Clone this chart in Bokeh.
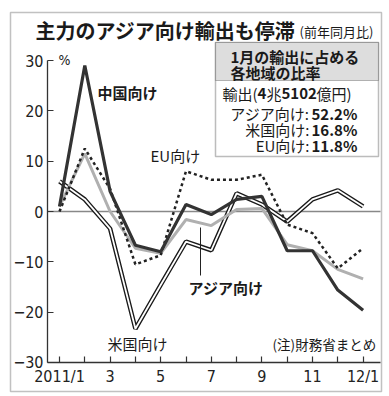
from bokeh.plotting import figure
from bokeh.models import Label, BoxAnnotation, FixedTicker, Range1d
from bokeh.embed import file_html
from bokeh.resources import INLINE

# ---- data (year-on-year change, %) ----
months = list(range(13))
month_labels = ["2011/1", "", "3", "", "5", "", "7", "", "9", "", "11", "", "12/1"]
china = [1, 29, 4, -6.7, -8, 1.4, -0.6, 2.4, 3, -7.8, -7.8, -15.6, -19.6]
asia = [1, 11.5, 0, -7.3, -8.3, -1.6, -2.8, 0.4, 0.6, -6.6, -7.8, -11.5, -13.4]
usa = [6, 2.4, -3.4, -23.3, -14.6, -6, -7.7, 3.6, 1.4, -2, 2.4, 4.2, 1]
eu = [0, 12.5, 4.5, -10.5, -8.7, 8, 6.3, 6.3, 7.3, -2.6, -4.3, -11.3, -7.3]
y_ticks = [-30, -20, -10, 0, 10, 20, 30]

JP = "'Noto Sans CJK JP'"
NUM = "'Liberation Sans Narrow', 'DejaVu Sans Condensed', 'Liberation Sans', sans-serif"

W, H = 388, 395

# page pixel -> data helpers for annotation placement
def dx(px):
    return (px - 59) / 25.3

def dy(py):
    return (211 - py) / 5.033

X_LEFT, X_RIGHT = dx(47), dx(380)

p = figure(width=W, height=H, output_backend="svg", toolbar_location=None,
           title=None,
           x_range=Range1d(dx(0), dx(W)), y_range=Range1d(dy(H), dy(0)),
           min_border=0, min_border_left=0, min_border_right=0,
           min_border_top=0, min_border_bottom=0)
p.outline_line_color = None
p.xgrid.visible = False
p.ygrid.visible = False
p.background_fill_color = "white"
p.border_fill_color = "white"

# axes (placed at fixed data locations so the frame covers the whole canvas)
p.yaxis.fixed_location = X_LEFT
p.xaxis.fixed_location = -30
p.yaxis.ticker = FixedTicker(ticks=y_ticks)
p.yaxis.bounds = (-30, 30)
p.xaxis.bounds = (X_LEFT, X_RIGHT)
p.xaxis.ticker = FixedTicker(ticks=months)
p.xaxis.major_label_overrides = {m: lab for m, lab in zip(months, month_labels)}
for ax in (p.xaxis, p.yaxis):
    ax.major_tick_in = 6
    ax.major_tick_out = 0
    ax.minor_tick_line_color = None
    ax.axis_line_color = "#333333"
    ax.axis_line_width = 1.3
    ax.major_tick_line_color = "#333333"
    ax.major_tick_line_width = 1.2
    ax.major_label_text_font = NUM
    ax.major_label_text_font_size = "16px"
    ax.major_label_text_color = "#222222"
p.yaxis.major_label_standoff = 4
p.xaxis.major_label_standoff = 5

# zero line
p.segment(x0=[X_LEFT], y0=[0], x1=[X_RIGHT], y1=[0], line_color="#888888", line_width=1.5)

# series
p.line(months, usa, line_color="#1a1a1a", line_width=4.5)
p.line(months, usa, line_color="white", line_width=1.8)
p.line(months, asia, line_color="#b0b0b0", line_width=3)
p.line(months, eu, line_color="#222222", line_width=2.5, line_dash="3 3")
p.line(months, china, line_color="#333333", line_width=3.2)

# outer frame
p.add_layout(BoxAnnotation(left=dx(10), right=dx(381), top=dy(12), bottom=dy(391),
                           fill_color=None, line_color="#333333", line_width=1.5))

def lab(px, py, text, size="15px", bold=False, align="left", font=JP, color="#1a1a1a"):
    p.add_layout(Label(x=dx(px), y=dy(py), text=text, text_font=font,
                       text_font_size=size, text_font_style="bold" if bold else "normal",
                       text_align=align, text_baseline="middle", text_color=color))

# title
lab(35, 30, "主力のアジア向け輸出も停滞", size="20px", bold=True)
lab(299, 31, "(前年同月比)", size="13px")

# unit
lab(58, 59, "%", size="14px", font=NUM)

# series labels
lab(97, 92, "中国向け", size="15px", bold=True)
lab(150, 155, "EU向け", size="15px")
lab(188, 287, "アジア向け", size="15px", bold=True)
lab(107, 343, "米国向け", size="15px")
lab(272, 343, "(注)財務省まとめ", size="13.5px")

# leader line for アジア向け
p.segment(x0=[dx(200)], y0=[dy(227)], x1=[dx(200)], y1=[dy(275)], line_color="#222222", line_width=1)

# inset box
p.add_layout(BoxAnnotation(left=dx(215), right=dx(378), top=dy(42), bottom=dy(156),
                           fill_color="white", fill_alpha=1, line_color="#222222", line_width=1.5))
p.add_layout(BoxAnnotation(left=dx(215), right=dx(378), top=dy(42), bottom=dy(80),
                           fill_color="#dddddd", fill_alpha=1, line_color="#222222", line_width=1.2))
lab(230, 56, "1月の輸出に占める", size="15px", bold=True)
lab(230, 72, "各地域の比率", size="15px", bold=True)
lab(222, 93, "輸出(", size="15px")
lab(257, 93, "4", size="15px", bold=True)
lab(266, 93, "兆", size="15px")
lab(281, 93, "5102", size="15px", bold=True)
lab(316, 93, "億円)", size="15px")
lab(309, 113, "アジア向け:", size="15px", align="right")
lab(311, 113, "52.2%", size="15px", bold=True)
lab(309, 129, "米国向け:", size="15px", align="right")
lab(311, 129, "16.8%", size="15px", bold=True)
lab(309, 145, "EU向け:", size="15px", align="right")
lab(311, 145, "11.8%", size="15px", bold=True)

open("out.html", "w").write(file_html(p, INLINE))
